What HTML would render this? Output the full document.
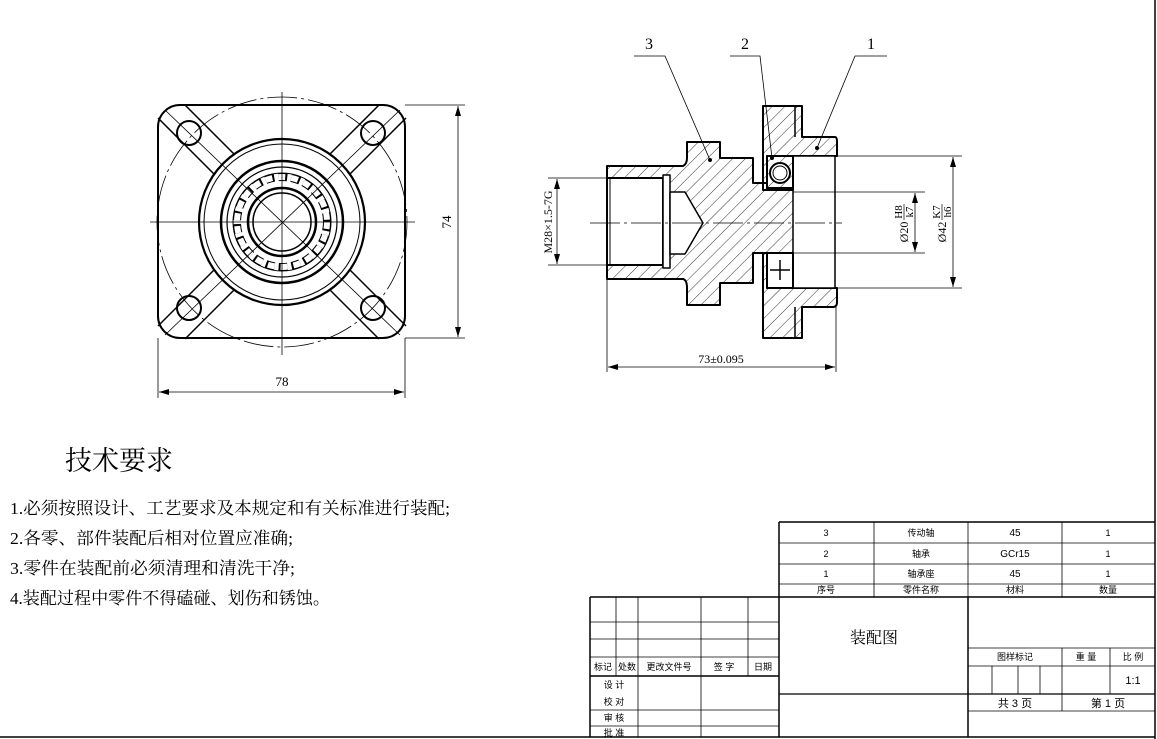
<!DOCTYPE html>
<html><head><meta charset="utf-8"><style>html,body{margin:0;padding:0;background:#fff}svg{display:block}</style></head><body>
<svg width="1157" height="739" viewBox="0 0 1157 739" xmlns="http://www.w3.org/2000/svg" font-family="'Liberation Serif','Noto Serif CJK SC',serif">
<defs>
<pattern id="h" width="9" height="9" patternUnits="userSpaceOnUse" patternTransform="rotate(45)"><line x1="0" y1="0" x2="0" y2="9" stroke="#000" stroke-width="0.8"/></pattern>
<marker id="a" markerWidth="10" markerHeight="6" refX="10" refY="3" orient="auto-start-reverse" markerUnits="userSpaceOnUse"><path d="M0,0 L10,3 L0,6z" fill="#000"/></marker>
</defs>
<line x1="1155" y1="0" x2="1155" y2="739" stroke="#000" stroke-width="1.5"/>
<line x1="0" y1="737" x2="1155" y2="737" stroke="#000" stroke-width="1.5"/>

<!-- LEFT VIEW -->
<g fill="none" stroke="#000">
<circle cx="282" cy="222" r="125" stroke-width="0.8" stroke-dasharray="30 4 3 4"/>
<rect x="158" y="105" width="247" height="233" rx="22" stroke-width="2"/>
<g stroke-width="1.5" transform="translate(282 222)">
<g id="rib"><path d="M-97,-117 L-48,-68 M-124,-104 L-68,-48"/></g>
<use href="#rib" transform="scale(-1 1)"/>
<use href="#rib" transform="scale(1 -1)"/>
<use href="#rib" transform="scale(-1 -1)"/>
</g>
<circle cx="189" cy="133" r="12" stroke-width="2"/><circle cx="373" cy="133" r="12" stroke-width="2"/>
<circle cx="189" cy="308" r="12" stroke-width="2"/><circle cx="373" cy="308" r="12" stroke-width="2"/>
<circle cx="282" cy="222" r="83" stroke-width="2.2" fill="#fff"/>
<circle cx="282" cy="222" r="78" stroke-width="1"/>
<circle cx="282" cy="222" r="61" stroke-width="2.5"/>
<circle cx="282" cy="222" r="55" stroke-width="1.2"/>
<circle cx="282" cy="222" r="45" stroke-width="8" stroke="#000" stroke-dasharray="9 4"/>
<circle cx="282" cy="222" r="45" stroke-width="6" stroke="#fff" stroke-dasharray="7 6"/>
<circle cx="282" cy="222" r="49" stroke-width="1"/>
<circle cx="282" cy="222" r="34" stroke-width="2.5"/>
<circle cx="282" cy="222" r="29" stroke-width="1.5"/>
<g stroke-width="0.8">
<line x1="150" y1="222" x2="415" y2="222"/><line x1="282" y1="92" x2="282" y2="355"/>
<line x1="165" y1="110" x2="400" y2="335"/><line x1="400" y1="110" x2="165" y2="335"/>
</g>
<g stroke-width="0.8">
<line x1="405" y1="105" x2="465" y2="105"/><line x1="405" y1="338" x2="465" y2="338"/>
<line x1="458" y1="106" x2="458" y2="337" marker-start="url(#a)" marker-end="url(#a)"/>
<line x1="158" y1="338" x2="158" y2="398"/><line x1="405" y1="338" x2="405" y2="398"/>
<line x1="159" y1="392" x2="404" y2="392" marker-start="url(#a)" marker-end="url(#a)"/>
</g>
</g>
<text x="447" y="222" font-size="13" text-anchor="middle" transform="rotate(-90 447 222)" dy="4">74</text>
<text x="282" y="386" font-size="13" text-anchor="middle">78</text>

<!-- RIGHT VIEW -->
<g stroke="#000" stroke-width="2" stroke-linejoin="round">
<path fill="url(#h)" d="M607,166 L683,166 Q687,164 687,158 L687,142 L720,142 L720,158 L753,158 L753,183 L767,183 L767,188 L795,188 L795,253 L767,253 L753,253 L753,283 L720,283 L720,305 L687,305 L687,288 Q687,280 683,279 L607,279 Z"/>
<path fill="#fff" d="M607,178 L663,178 L663,265 L607,265 Z"/>
<path fill="#fff" stroke-width="1.5" d="M663,175 L670,175 L670,268 L663,268 Z"/>
<path fill="#fff" stroke-width="1.5" d="M670,192 L685,192 L703,223 L685,254 L670,254 Z"/>
<line x1="610" y1="178" x2="610" y2="265" stroke-width="1"/>
<path fill="url(#h)" d="M763,106 L802,106 L802,137 L835,137 Q837,137 837,142 L837,156 L767,156 L767,190 L763,190 Z"/>
<path fill="url(#h)" d="M763,253 L767,253 L767,288 L837,288 L837,302 Q837,307 833,307 L802,307 L802,338 L763,338 Z"/>
<path fill="#fff" d="M793,156 L835,156 L835,288 L793,288 Z" stroke-width="1.5"/>
<line x1="795" y1="106" x2="795" y2="137" stroke-width="1.5"/>
<line x1="795" y1="307" x2="795" y2="338" stroke-width="1.5"/>
<rect x="767" y="156" width="26" height="34" fill="url(#h)"/>
<circle cx="780" cy="173" r="10" fill="#fff"/>
<circle cx="780" cy="173" r="7" fill="none" stroke-width="1"/>
<rect x="767" y="253" width="26" height="35" fill="#fff"/>
<path d="M780,260 L780,280 M770,270 L790,270" stroke-width="1.5"/>
</g>
<g stroke="#000" stroke-width="0.8" fill="none">
<line x1="590" y1="223" x2="842" y2="223" stroke-dasharray="30 4 3 4"/>
<line x1="793" y1="192" x2="925" y2="192"/><line x1="793" y1="253" x2="925" y2="253"/>
<line x1="915" y1="193" x2="915" y2="252" marker-start="url(#a)" marker-end="url(#a)"/>
<line x1="835" y1="156" x2="962" y2="156"/><line x1="835" y1="288" x2="962" y2="288"/>
<line x1="953" y1="157" x2="953" y2="287" marker-start="url(#a)" marker-end="url(#a)"/>
<line x1="548" y1="178" x2="607" y2="178"/><line x1="548" y1="265" x2="607" y2="265"/>
<line x1="557" y1="179" x2="557" y2="264" marker-start="url(#a)" marker-end="url(#a)"/>
<line x1="607" y1="279" x2="607" y2="372"/><line x1="836" y1="307" x2="836" y2="372"/>
<line x1="608" y1="367" x2="835" y2="367" marker-start="url(#a)" marker-end="url(#a)"/>
<path d="M634,56 L665,56 L710,160"/>
<path d="M730,56 L760,56 L772,158"/>
<path d="M887,56 L855,56 L817,148"/>
</g>
<circle cx="710" cy="160" r="2" fill="#000"/><circle cx="772" cy="158" r="2" fill="#000"/><circle cx="817" cy="148" r="2" fill="#000"/>
<text x="649" y="49" font-size="16" text-anchor="middle">3</text>
<text x="745" y="49" font-size="16" text-anchor="middle">2</text>
<text x="871" y="49" font-size="16" text-anchor="middle">1</text>
<text x="721" y="363" font-size="12" text-anchor="middle">73±0.095</text>
<text x="0" y="0" font-size="12" text-anchor="middle" transform="translate(552,222) rotate(-90)">M28×1.5-7G</text>
<g transform="translate(908,222) rotate(-90)" font-size="12">
<text x="-10" y="0" text-anchor="middle">Ø20</text>
<text x="10" y="-6" font-size="11" text-anchor="middle">H8</text><line x1="2" y1="-4" x2="18" y2="-4" stroke="#000" stroke-width="0.7"/><text x="10" y="5" font-size="11" text-anchor="middle">k7</text>
</g>
<g transform="translate(946,222) rotate(-90)" font-size="12">
<text x="-10" y="0" text-anchor="middle">Ø42</text>
<text x="10" y="-6" font-size="11" text-anchor="middle">K7</text><line x1="2" y1="-4" x2="18" y2="-4" stroke="#000" stroke-width="0.7"/><text x="10" y="5" font-size="11" text-anchor="middle">h6</text>
</g>

<text x="65" y="470" font-size="27" textLength="108" lengthAdjust="spacingAndGlyphs">技术要求</text>
<g font-size="17">
<text x="10" y="514" textLength="440" lengthAdjust="spacingAndGlyphs">1.必须按照设计、工艺要求及本规定和有关标准进行装配;</text>
<text x="10" y="544" textLength="283" lengthAdjust="spacingAndGlyphs">2.各零、部件装配后相对位置应准确;</text>
<text x="10" y="574" textLength="285" lengthAdjust="spacingAndGlyphs">3.零件在装配前必须清理和清洗干净;</text>
<text x="10" y="604" textLength="320" lengthAdjust="spacingAndGlyphs">4.装配过程中零件不得磕碰、划伤和锈蚀。</text>
</g>

<g stroke="#000" fill="none">
<g stroke-width="1.5">
<line x1="779" y1="522" x2="1155" y2="522"/>
<line x1="779" y1="522" x2="779" y2="737"/>
<line x1="590" y1="597" x2="1155" y2="597"/>
<line x1="590" y1="597" x2="590" y2="737"/>
<line x1="590" y1="676" x2="779" y2="676"/>
<line x1="779" y1="694" x2="1155" y2="694" stroke-width="1.2"/>
<line x1="968" y1="597" x2="968" y2="737"/>
</g>
<g stroke-width="0.8">
<line x1="779" y1="543" x2="1155" y2="543"/><line x1="779" y1="564" x2="1155" y2="564"/><line x1="779" y1="584" x2="1155" y2="584"/>
<line x1="874" y1="522" x2="874" y2="597"/><line x1="968" y1="522" x2="968" y2="597"/><line x1="1062" y1="522" x2="1062" y2="597"/>
<line x1="590" y1="622" x2="779" y2="622"/><line x1="590" y1="639" x2="779" y2="639"/><line x1="590" y1="657" x2="779" y2="657"/>
<line x1="590" y1="710" x2="779" y2="710"/><line x1="590" y1="726" x2="779" y2="726"/>
<line x1="616" y1="597" x2="616" y2="676"/><line x1="638" y1="597" x2="638" y2="737"/><line x1="701" y1="597" x2="701" y2="737"/><line x1="748" y1="597" x2="748" y2="676"/>
<line x1="968" y1="648" x2="1155" y2="648"/><line x1="968" y1="666" x2="1155" y2="666"/><line x1="968" y1="711" x2="1155" y2="711"/>
<line x1="992" y1="666" x2="992" y2="694"/><line x1="1018" y1="666" x2="1018" y2="694"/><line x1="1040" y1="666" x2="1040" y2="694"/>
<line x1="1062" y1="648" x2="1062" y2="711"/><line x1="1110" y1="648" x2="1110" y2="694"/>
</g>
</g>
<g font-family="'Liberation Sans','Noto Sans CJK SC',sans-serif" font-size="9" text-anchor="middle">
<text x="826" y="536">3</text><text x="921" y="536">传动轴</text><text x="1015" y="536" font-size="10">45</text><text x="1108" y="536">1</text>
<text x="826" y="557">2</text><text x="921" y="557">轴承</text><text x="1015" y="557" font-size="10">GCr15</text><text x="1108" y="557">1</text>
<text x="826" y="577">1</text><text x="921" y="577">轴承座</text><text x="1015" y="577" font-size="10">45</text><text x="1108" y="577">1</text>
<text x="826" y="593">序号</text><text x="921" y="593">零件名称</text><text x="1015" y="593">材料</text><text x="1108" y="593">数量</text>
<text x="603" y="670">标记</text><text x="627" y="670">处数</text><text x="669" y="670">更改文件号</text><text x="724" y="670">签 字</text><text x="763" y="670">日期</text>
<text x="614" y="688">设 计</text><text x="614" y="705">校 对</text><text x="614" y="721">审 核</text><text x="614" y="736">批 准</text>
<text x="1015" y="660">图样标记</text><text x="1086" y="660">重 量</text><text x="1133" y="660">比 例</text>
<text x="1133" y="684" font-size="11">1:1</text>
<text x="1015" y="707" font-size="11">共 3 页</text><text x="1108" y="707" font-size="11">第 1 页</text>
</g>
<text x="874" y="643" font-size="16" text-anchor="middle">装配图</text>
</svg>
</body></html>
